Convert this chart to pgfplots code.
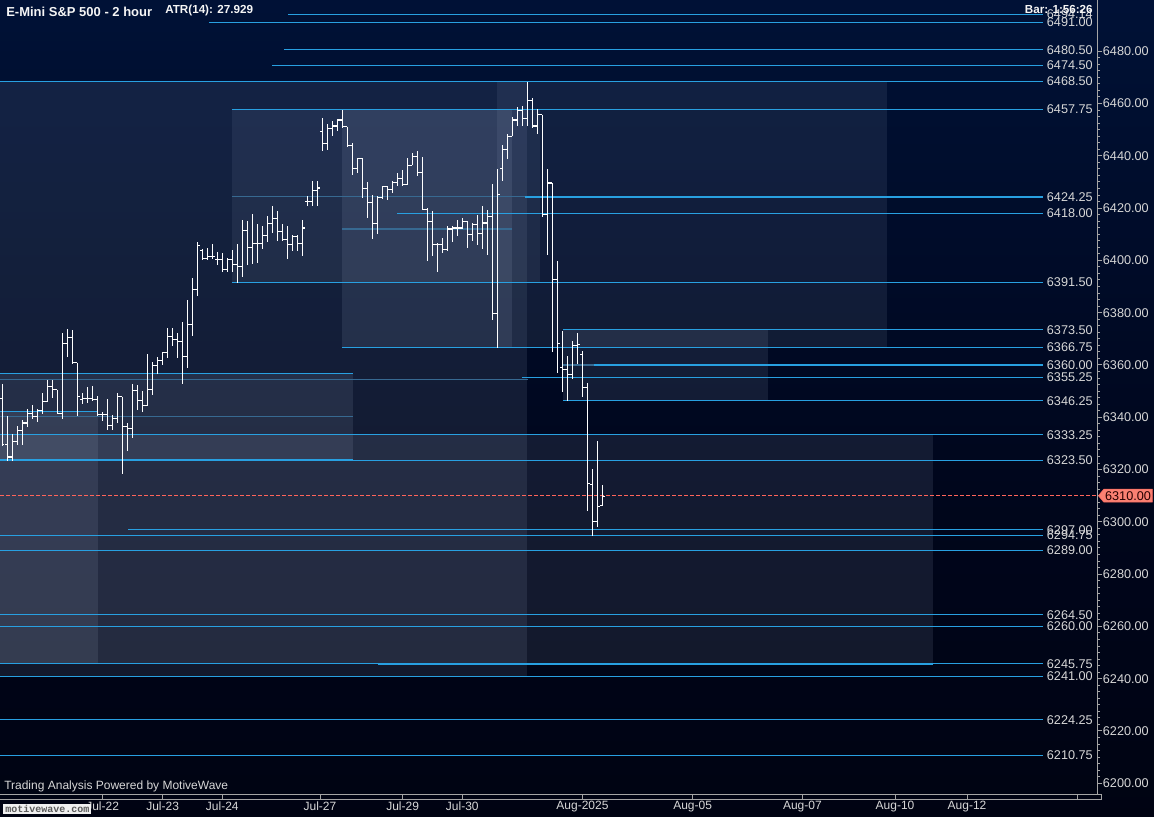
\documentclass[border=0pt]{standalone}
\usepackage{fontspec}
\setmainfont{Liberation Sans}
\newfontfamily\monof{Liberation Mono}
\usepackage{pgfplots}
\usepackage{pgfplotstable}
\pgfplotsset{compat=1.18}
\usetikzlibrary{shapes.symbols}

\definecolor{lvl}{RGB}{40,160,225}
\definecolor{lvldim}{RGB}{55,105,145}
\definecolor{labc}{RGB}{215,215,215}
\definecolor{axc}{RGB}{165,165,165}
\definecolor{redl}{RGB}{255,100,90}
\definecolor{pricebg}{RGB}{250,128,114}
\definecolor{zonec}{RGB}{195,210,235}
\definecolor{bgA}{RGB}{0,0,6}
\definecolor{bgB}{RGB}{0,6,28}
\definecolor{bgC}{RGB}{0,27,76}
\pgfdeclareverticalshading{bgshade}{100bp}{color(0bp)=(bgA); color(45bp)=(bgB); color(100bp)=(bgC)}

\newcommand{\lab}{\fontsize{9.5}{10}\selectfont}
\newcommand{\datef}{\fontsize{9}{10}\selectfont}

% price bars, 2 hour: x is the bar position
\pgfplotstableread{
x O H L C
2.3 6347.2 6352.9 6329.2 6329.5
7.3 6329.5 6340.4 6323.1 6324.8
12.3 6324.8 6333.7 6323.1 6330.8
17.3 6330.8 6336.5 6329.5 6335.0
22.3 6335.0 6338.8 6329.5 6337.8
27.3 6337.8 6343.3 6336.3 6341.6
32.3 6341.6 6344.6 6339.5 6340.4
37.3 6340.4 6343.1 6338.2 6342.7
42.3 6342.7 6349.4 6341.1 6345.9
47.3 6345.9 6354.2 6345.9 6351.9
52.3 6351.9 6354.2 6347.2 6350.6
57.3 6350.6 6350.6 6341.4 6341.6
62.3 6341.6 6372.1 6339.5 6368.2
67.3 6368.2 6373.6 6363.1 6370.6
72.3 6370.6 6373.4 6360.6 6360.8
77.3 6360.8 6360.8 6340.5 6348.0
82.3 6346.8 6349.1 6345.2 6347.2
87.3 6347.2 6351.4 6345.5 6347.2
92.3 6347.2 6351.9 6346.3 6346.8
97.3 6346.8 6348.0 6340.4 6341.1
102.3 6341.1 6342.0 6338.6 6341.0
107.3 6341.0 6346.8 6335.0 6336.7
112.3 6336.7 6340.8 6335.0 6339.5
117.3 6339.5 6349.1 6337.8 6347.8
122.3 6347.8 6347.8 6318.4 6336.3
127.3 6336.3 6337.8 6327.0 6335.6
132.3 6335.6 6352.6 6332.1 6350.4
137.3 6350.4 6352.3 6342.7 6346.3
142.3 6346.3 6350.1 6342.0 6344.6
147.3 6344.6 6364.2 6344.2 6350.6
152.3 6350.6 6361.2 6348.7 6359.9
157.3 6359.9 6363.1 6356.7 6361.8
162.3 6361.8 6364.7 6359.9 6364.7
167.3 6364.7 6374.0 6362.5 6371.0
172.3 6371.0 6374.0 6367.4 6369.8
177.3 6369.8 6372.1 6362.5 6369.1
182.3 6369.1 6376.6 6352.9 6363.1
187.3 6363.1 6384.9 6359.0 6375.3
192.3 6375.3 6393.2 6371.0 6389.0
197.3 6389.0 6407.2 6386.2 6405.6
202.3 6403.9 6404.4 6400.0 6400.7
207.3 6400.7 6404.7 6400.2 6401.5
212.3 6401.5 6406.4 6400.6 6401.5
217.3 6400.5 6403.4 6398.3 6400.5
222.3 6400.5 6403.0 6395.4 6396.4
227.3 6396.4 6400.9 6395.7 6400.5
232.3 6400.5 6404.0 6395.4 6398.3
237.3 6398.3 6406.4 6391.5 6397.7
242.3 6397.7 6415.3 6393.6 6411.3
247.3 6411.3 6415.2 6398.3 6405.0
252.3 6405.0 6417.7 6398.7 6406.4
257.3 6406.4 6414.0 6399.0 6406.4
262.3 6406.4 6413.0 6404.3 6409.4
267.3 6409.4 6416.8 6406.9 6414.0
272.3 6414.0 6420.7 6410.4 6416.2
277.3 6416.2 6418.8 6407.6 6411.1
282.3 6411.1 6414.0 6407.6 6407.9
287.3 6407.9 6413.0 6400.5 6406.0
292.3 6406.0 6409.8 6403.4 6409.2
297.3 6409.2 6409.8 6403.4 6406.6
302.3 6406.6 6415.6 6401.8 6412.4
307.3 6422.6 6424.5 6420.9 6422.6
312.3 6422.6 6430.3 6420.7 6426.8
317.3 6426.8 6430.5 6420.7 6427.7
322.3 6449.4 6454.6 6442.0 6444.7
327.3 6444.7 6452.3 6442.1 6450.3
332.3 6450.3 6453.3 6447.5 6451.4
337.3 6451.4 6454.0 6449.4 6453.7
342.3 6453.7 6457.5 6450.7 6451.1
347.3 6451.1 6451.1 6443.4 6444.0
352.3 6444.0 6445.0 6432.8 6435.0
357.3 6435.0 6439.2 6433.5 6438.8
362.3 6438.8 6439.2 6423.9 6427.4
367.3 6427.4 6430.0 6416.2 6422.0
372.3 6422.0 6425.2 6408.2 6414.0
377.3 6414.0 6424.8 6410.1 6424.1
382.3 6424.1 6428.4 6423.5 6428.1
387.3 6428.1 6428.4 6423.2 6427.1
392.3 6427.1 6430.3 6425.8 6429.9
397.3 6429.9 6433.5 6428.4 6431.2
402.3 6431.2 6434.7 6428.4 6429.0
407.3 6429.0 6439.2 6429.0 6436.3
412.3 6436.3 6441.1 6436.3 6439.9
417.3 6439.9 6442.0 6432.2 6433.7
422.3 6433.7 6439.6 6419.6 6419.6
427.3 6419.6 6420.0 6399.6 6414.7
432.3 6414.7 6418.8 6401.8 6406.2
437.3 6406.2 6406.6 6395.7 6406.0
442.3 6406.0 6408.5 6402.8 6404.0
447.3 6404.0 6413.0 6403.5 6412.0
452.3 6412.0 6413.0 6407.2 6412.4
457.3 6412.4 6415.6 6409.2 6412.4
462.3 6412.4 6416.2 6412.0 6414.9
467.3 6414.9 6414.9 6404.7 6409.8
472.3 6409.8 6414.3 6407.6 6413.6
477.3 6413.6 6417.5 6406.0 6410.4
482.3 6410.4 6420.7 6404.3 6414.3
487.3 6414.3 6419.4 6401.9 6416.8
492.3 6416.8 6429.4 6377.2 6379.8
497.3 6379.8 6435.1 6366.3 6425.2
502.3 6435.0 6444.3 6430.3 6442.4
507.3 6442.4 6448.2 6438.8 6447.5
512.3 6447.5 6454.8 6447.5 6453.7
517.3 6453.7 6458.8 6451.4 6457.5
522.3 6457.5 6459.0 6451.4 6454.3
527.3 6454.3 6468.2 6451.4 6461.2
532.3 6461.2 6462.2 6450.7 6451.4
537.3 6451.4 6458.0 6448.4 6455.8
542.3 6455.8 6455.8 6416.6 6417.5
547.3 6417.5 6435.1 6401.9 6429.6
552.3 6429.6 6429.6 6365.1 6392.8
557.3 6392.8 6399.8 6357.0 6368.3
562.3 6359.0 6373.1 6349.7 6358.4
567.3 6358.4 6363.4 6346.3 6356.5
572.3 6356.5 6369.1 6354.8 6367.6
577.3 6367.6 6372.3 6360.2 6368.0
582.3 6364.1 6365.3 6347.8 6351.4
587.3 6351.4 6353.2 6304.1 6314.6
592.3 6314.3 6320.1 6294.7 6300.1
597.3 6300.1 6330.8 6297.9 6306.0
602.3 6306.2 6313.9 6306.0 6309.7
}\bars

% shaded zone: x from, x to, price low, price high, opacity
\newcommand{\zone}[5]{\addplot[fill=zonec, fill opacity=#5, draw=none, forget plot] coordinates {(#1,#3) (#2,#3) (#2,#4) (#1,#4)};}
% level line with its label at the right
\newcommand{\lv}[4]{\addplot[lvl, line width=0.8pt, forget plot] coordinates {(#1,#3) (#2,#3)};
  \node[anchor=east, font=\lab, text=labc, inner sep=0pt] at (axis cs:1093,#3) {#4};}
\newcommand{\dimlv}[3]{\addplot[lvldim, line width=0.8pt, forget plot] coordinates {(#1,#3) (#2,#3)};}
\pgfplotsset{ohlc/.style={white, only marks, mark=none, mark size=0pt,
  mark options={draw=none, fill=none}, forget plot}}

\begin{document}
\begin{tikzpicture}
\shade[shading=bgshade] (0,-16.5pt) rectangle (865.5pt,596.25pt);
\useasboundingbox (0,-16.5pt) rectangle (865.5pt,596.25pt);
\begin{axis}[
  at={(0pt,0pt)}, anchor=south west,
  width=822.75pt, height=596.25pt, scale only axis,
  xmin=0, xmax=1097, ymin=6195.52, ymax=6499.6,
  axis x line*=bottom, axis y line*=right,
  axis line style={-, draw=axc, line width=0.75pt},
  tick align=outside,
  tick style={draw=axc, line width=0.75pt},
  major tick length=3.75pt, minor tick length=2.25pt,
  ytick={6200,6220,...,6480}, minor y tick num=7,
  scaled y ticks=false,
  yticklabel={\pgfmathprintnumber[fixed,fixed zerofill,precision=2,1000 sep={},assume math mode=true]{\tick}},
  yticklabel style={font=\lab, text=labc, inner sep=0.5pt, anchor=west},
  xtick={102.6,162.6,222.3,320,402.6,462.3,582.5,692.6,802.4,895,967,1077.5},
  xticklabels={Jul-22,Jul-23,Jul-24,Jul-27,Jul-29,Jul-30,Aug-2025,Aug-05,Aug-07,Aug-10,Aug-12,{}},
  xticklabel style={font=\datef, text=labc, inner sep=1pt},
  clip=false,
]
% zones
\zone{0}{527}{6333.25}{6468.5}{0.1}
\zone{527}{887}{6366.75}{6468.5}{0.09}
\zone{232}{540}{6391.5}{6457.75}{0.08}
\zone{342}{512}{6366.75}{6457.75}{0.1}
\zone{497}{527}{6366.75}{6468.5}{0.08}
\zone{0}{353}{6323.5}{6356.75}{0.1}
\zone{0}{98}{6245.75}{6342.3}{0.1}
\zone{0}{527}{6241}{6333.25}{0.1}
\zone{0}{933}{6245.75}{6333.25}{0.1}
\zone{563}{768}{6346.25}{6373.5}{0.1}
% inner lines of the zones
\dimlv{232}{540}{6424.3}
\dimlv{342}{512}{6412.0}
\dimlv{0}{528}{6354.5}
\dimlv{0}{353}{6340.2}
\dimlv{563}{595}{6360.0}
% levels
\addplot[lvl, line width=0.8pt, forget plot] coordinates {(0,6356.75) (353,6356.75)};
\addplot[lvl, line width=0.8pt, forget plot] coordinates {(0,6342.3) (98,6342.3)};
\addplot[lvl, line width=1.5pt, forget plot] coordinates {(0,6323.5) (353,6323.5)};
\addplot[lvl, line width=1.5pt, forget plot] coordinates {(378,6245.75) (933,6245.75)};
\lv{288}{1043}{6494.14}{6494.14}
\lv{209}{1043}{6491.00}{6491.00}
\lv{284}{1043}{6480.50}{6480.50}
\lv{272}{1043}{6474.50}{6474.50}
\lv{0}{1043}{6468.50}{6468.50}
\lv{232}{1043}{6457.75}{6457.75}
\lv{525}{1043}{6424.25}{6424.25}
\lv{397}{1043}{6418.00}{6418.00}
\lv{232}{1043}{6391.50}{6391.50}
\lv{563}{1043}{6373.50}{6373.50}
\lv{342}{1043}{6366.75}{6366.75}
\lv{594}{1043}{6360.00}{6360.00}
\lv{522}{1043}{6355.25}{6355.25}
\lv{563}{1043}{6346.25}{6346.25}
\lv{0}{1043}{6333.25}{6333.25}
\lv{0}{1043}{6323.50}{6323.50}
\lv{128}{1043}{6297.00}{6297.00}
\lv{0}{1043}{6294.75}{6294.75}
\lv{0}{1043}{6289.00}{6289.00}
\lv{0}{1043}{6264.50}{6264.50}
\lv{0}{1043}{6260.00}{6260.00}
\lv{0}{1043}{6245.75}{6245.75}
\lv{0}{1043}{6241.00}{6241.00}
\lv{0}{1043}{6224.25}{6224.25}
\lv{0}{1043}{6210.75}{6210.75}
% last price
\addplot[redl, line width=0.8pt, dash pattern=on 3pt off 1.5pt, forget plot] coordinates {(0,6310) (1097,6310)};
\node[signal, signal to=west, signal pointer angle=100, fill=pricebg, draw=pricebg!80!red,
  text=black!85!red, font=\lab, inner xsep=1pt, inner ysep=1.5pt, anchor=west]
  at (axis cs:1098,6310) {6310.00};
% OHLC bars: high-low range, open tick to the left, close tick to the right
\addplot[ohlc, error bars/.cd, y dir=both, y explicit, error mark=none,
  error bar style={white, line width=0.8pt}]
  table[x=x, y=C, y error plus expr=\thisrow{H}-\thisrow{C}, y error minus expr=\thisrow{C}-\thisrow{L}] {\bars};
\addplot[ohlc, error bars/.cd, x dir=minus, x fixed=2.2, error mark=none,
  error bar style={white, line width=0.8pt}]
  table[x=x, y=O] {\bars};
\addplot[ohlc, error bars/.cd, x dir=plus, x fixed=2.2, error mark=none,
  error bar style={white, line width=0.8pt}]
  table[x=x, y=C] {\bars};
\end{axis}
\begin{scope}[x=0.75pt, y=0.75pt]
\draw[axc, line width=0.75pt] (0,-5) -- (1101,-5) -- (1101,0) -- (1097,0);
\node[anchor=west, inner sep=0pt, text=white!92!gray, font=\bfseries\fontsize{9.75}{11}\selectfont] at (6,783) {E-Mini S\&P 500 - 2 hour};
\node[anchor=west, inner sep=0pt, text=white!92!gray, font=\bfseries\fontsize{8.75}{10}\selectfont] at (165,785) {ATR(14): 27.929};
\node[anchor=east, inner sep=0pt, text=white!92!gray, font=\bfseries\fontsize{8.75}{10}\selectfont] at (1093,786) {Bar: 1:56:26};
\node[anchor=west, inner sep=0pt, text=labc, font=\datef] at (4,9) {Trading Analysis Powered by MotiveWave};
\node[anchor=west, fill=white!88!gray, text=black!65, inner xsep=1.5pt, inner ysep=1pt,
  font=\monof\bfseries\fontsize{7.5}{8}\selectfont] at (3,-14) {motivewave.com};
\end{scope}
\end{tikzpicture}
\end{document}
